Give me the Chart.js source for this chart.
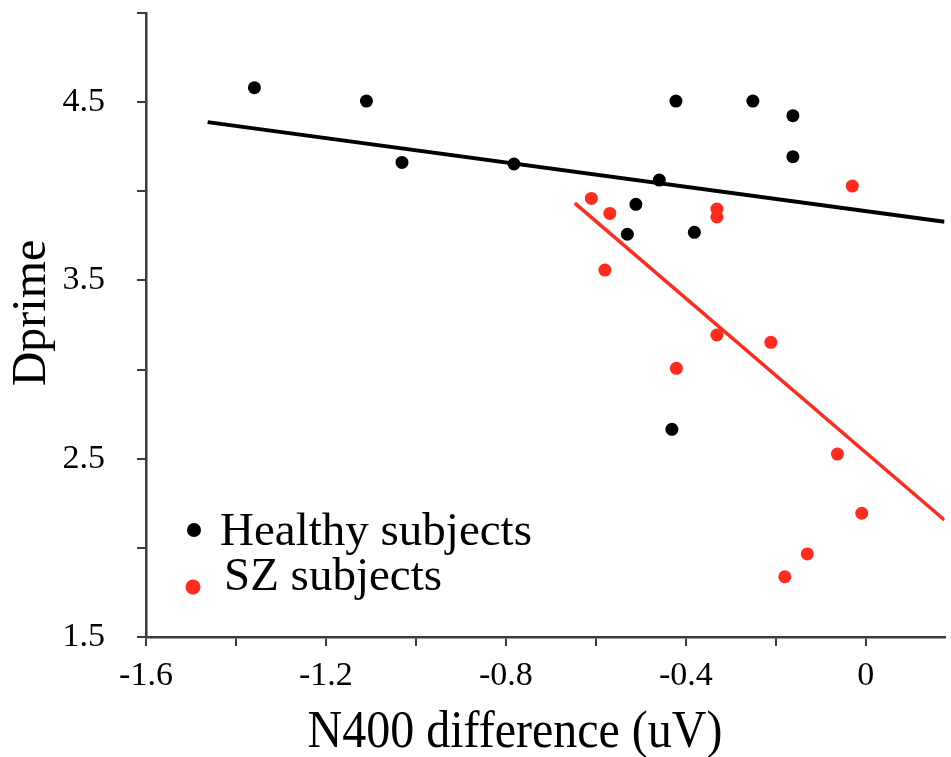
<!DOCTYPE html>
<html>
<head>
<meta charset="utf-8">
<script src="https://cdn.jsdelivr.net/npm/chart.js@4.4.1/dist/chart.umd.min.js"></script>
<style>
  html, body { margin: 0; padding: 0; background: #fff; }
  #wrap { width: 951px; height: 757px; }
</style>
</head>
<body>
<div id="wrap"><canvas id="myChart"></canvas></div>
<script>
// healthy subjects
const healthyX = [-1.359, -1.110, -1.031, -0.782, -0.422, -0.251, -0.162, -0.162, -0.459, -0.511, -0.530, -0.381, -0.431];
const healthyY = [4.581, 4.506, 4.162, 4.153, 4.506, 4.506, 4.424, 4.194, 4.063, 3.927, 3.759, 3.770, 2.665];
// SZ subjects
const szX = [-0.610, -0.569, -0.331, -0.331, -0.030, -0.580, -0.331, -0.211, -0.421, -0.063, -0.009, -0.130, -0.180];
const szY = [3.960, 3.876, 3.900, 3.856, 4.029, 3.558, 3.194, 3.153, 3.007, 2.526, 2.194, 1.966, 1.838];
// fit lines, end points
const healthyFitX = [-1.463, 0.175];
const healthyFitY = [4.388, 3.829];
const szFitX = [-0.647, 0.175];
const szFitY = [3.934, 2.156];

const xLabels = [-1.6, -1.2, -0.8, -0.4, 0];
const yLabels = [1.5, 2.5, 3.5, 4.5];
const xTitle = 'N400 difference (uV)';
const yTitle = 'Dprime';

const RED = '#ff2b1c';
const AXIS = '#3c3c3c';
const SERIF = "'Liberation Serif', 'Times New Roman', serif";

function pts(xs, ys) {
  return xs.map((x, i) => ({x: x, y: ys[i]}));
}

function hasLabel(list, v) {
  return list.some(l => Math.abs(l - v) < 1e-6);
}

// axis titles and legend are drawn by hand so they can sit where the original has them
const extras = {
  id: 'extras',
  afterDraw(chart) {
    const ctx = chart.ctx;
    const a = chart.chartArea;
    const ds = chart.data.datasets;
    ctx.save();
    ctx.fillStyle = '#000';
    ctx.textAlign = 'center';
    ctx.textBaseline = 'alphabetic';

    // x title
    ctx.save();
    ctx.font = '48px ' + SERIF;
    ctx.translate(a.left + 369, a.bottom + 110);
    ctx.scale(1, 1.1);
    ctx.fillText(xTitle, 0, 0);
    ctx.restore();

    // y title
    ctx.save();
    ctx.font = '48px ' + SERIF;
    ctx.translate(45, a.top + 300);
    ctx.rotate(-Math.PI / 2);
    ctx.fillText(yTitle, 0, 0);
    ctx.restore();

    // legend, inside the plot at bottom left
    const rows = [
      {ds: ds[0], dx: 48, dy: -107, tx: 74, ty: -92, r: 7},
      {ds: ds[1], dx: 47, dy: -50, tx: 78, ty: -47, r: 7.5}
    ];
    ctx.font = '47px ' + SERIF;
    ctx.textAlign = 'left';
    rows.forEach(row => {
      ctx.fillStyle = row.ds.backgroundColor;
      ctx.beginPath();
      ctx.arc(a.left + row.dx, a.bottom + row.dy, row.r, 0, Math.PI * 2);
      ctx.fill();
      ctx.fillStyle = '#000';
      ctx.fillText(row.ds.label, a.left + row.tx, a.bottom + row.ty);
    });
    ctx.restore();
  }
};

var ctx = document.getElementById('myChart').getContext('2d');

var myChart = new Chart(ctx, {
  type: 'scatter',
  data: {
    datasets: [{
      label: 'Healthy subjects',
      data: pts(healthyX, healthyY),
      backgroundColor: '#000',
      borderWidth: 0,
      pointRadius: 6.5,
      order: 2
    }, {
      label: 'SZ subjects',
      data: pts(szX, szY),
      backgroundColor: RED,
      borderWidth: 0,
      pointRadius: 6.5,
      order: 2
    }, {
      label: 'Healthy fit',
      type: 'line',
      data: pts(healthyFitX, healthyFitY),
      borderColor: '#000',
      borderWidth: 4,
      pointRadius: 0,
      order: 1
    }, {
      label: 'SZ fit',
      type: 'line',
      data: pts(szFitX, szFitY),
      borderColor: RED,
      borderWidth: 3.5,
      pointRadius: 0,
      order: 1
    }]
  },
  options: {
    responsive: true,
    maintainAspectRatio: false,
    animation: false,
    layout: { padding: { top: 13, right: 0, left: 0, bottom: 0 } },
    plugins: {
      legend: { display: false },
      tooltip: { enabled: false }
    },
    scales: {
      x: {
        type: 'linear',
        min: -1.6,
        max: 0.175,
        border: { display: true, color: AXIS, width: 2.5 },
        grid: { drawOnChartArea: false, drawTicks: true, tickLength: 9, color: AXIS, lineWidth: 2 },
        ticks: {
          stepSize: 0.2,
          includeBounds: false,
          padding: 10,
          color: '#000',
          maxRotation: 0,
          autoSkip: false,
          font: { family: SERIF, size: 34 },
          callback: v => hasLabel(xLabels, v) ? String(Math.round(v * 10) / 10) : ''
        },
        afterFit: s => {
          s.height = 120;
          s.paddingLeft = 0; s.paddingRight = 0;
        }
      },
      y: {
        type: 'linear',
        min: 1.5,
        max: 5.0,
        border: { display: true, color: AXIS, width: 2.5 },
        grid: { drawOnChartArea: false, drawTicks: true, tickLength: 9, color: AXIS, lineWidth: 2 },
        ticks: {
          stepSize: 0.5,
          padding: 32,
          color: '#000',
          autoSkip: false,
          font: { family: SERIF, size: 34 },
          callback: v => hasLabel(yLabels, v) ? v.toFixed(1) : ''
        },
        afterFit: s => {
          s.width = 146;
          s.paddingTop = 0; s.paddingBottom = 0;
        }
      }
    }
  },
  plugins: [extras]
});
</script>
</body>
</html>
